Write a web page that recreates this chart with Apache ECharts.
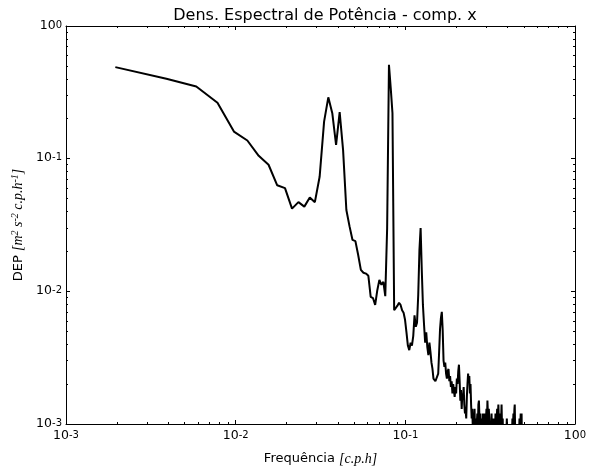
<!DOCTYPE html>
<html>
<head>
<meta charset="utf-8">
<script src="https://cdn.jsdelivr.net/npm/echarts@6/dist/echarts.min.js"></script>
<style>
html, body { margin: 0; padding: 0; background: #fff; }
#chart { width: 593px; height: 471px; }
</style>
</head>
<body>
<div id="chart"></div>
<script>
// Power spectral density of the x velocity component (hourly samples, 512-sample segments)
const SEGMENT_LENGTH = 512;
const SAMPLE_INTERVAL_H = 1;

const psdX = [
  0.49, 0.40, 0.35, 0.264, 0.160, 0.137, 0.105, 0.090, 0.063, 0.060,
  0.042, 0.047, 0.0435, 0.051, 0.047, 0.073, 0.190, 0.290, 0.220, 0.127,
  0.224, 0.116, 0.041, 0.031, 0.0244, 0.0239, 0.0188, 0.0145, 0.0138, 0.0136,
  0.0131, 0.0091, 0.0089, 0.0079, 0.0102, 0.0122, 0.0112, 0.0118, 0.0092, 0.030,
  0.51, 0.34, 0.22, 0.0072, 0.0070, 0.0078, 0.0082, 0.0079, 0.0072, 0.0069,
  0.0061, 0.0049, 0.0039, 0.0036, 0.0041, 0.0039, 0.0046, 0.0066, 0.0054, 0.0058,
  0.0094, 0.0205, 0.030, 0.0145, 0.0079, 0.0056, 0.0041, 0.0049, 0.0038, 0.0033,
  0.0041, 0.0035, 0.0029, 0.0026, 0.0022, 0.0022, 0.0021, 0.0021, 0.0021, 0.0024,
  0.0035, 0.0052, 0.0063, 0.0070, 0.0051, 0.0030, 0.0027, 0.0029, 0.0024, 0.0022,
  0.0025, 0.0026, 0.0021, 0.0023, 0.0019, 0.0021, 0.0017, 0.0020, 0.0018, 0.0016,
  0.0019, 0.0017, 0.0022, 0.0020, 0.0025, 0.0028, 0.0021, 0.0015, 0.0018, 0.0013,
  0.0017, 0.0016, 0.0019, 0.0014, 0.0012, 0.0013, 0.0011, 0.0016, 0.0020, 0.0024,
  0.0021, 0.0023, 0.0017, 0.0020, 0.0014, 0.0011, 0.0013, 0.0009, 0.0012, 0.0010,
  0.0013, 0.0008, 0.0011, 0.0007, 0.0010, 0.0012, 0.0009, 0.0014, 0.0015, 0.0011,
  0.0009, 0.0012, 0.0008, 0.0010, 0.0011, 0.0008, 0.0012, 0.0010, 0.0007, 0.0011,
  0.0012, 0.0009, 0.0011, 0.0013, 0.0010, 0.0015, 0.0012, 0.0009, 0.0013, 0.0011,
  0.0008, 0.0010, 0.0007, 0.0009, 0.0012, 0.0008, 0.0006, 0.0009, 0.0011, 0.0008,
  0.0010, 0.0007, 0.0009, 0.0012, 0.0010, 0.0008, 0.0011, 0.0013, 0.0010, 0.0012,
  0.0014, 0.0011, 0.0009, 0.0012, 0.0008, 0.0010, 0.0012, 0.0011, 0.0014, 0.0010,
  0.0008, 0.0011, 0.0007, 0.0009, 0.0006, 0.0008, 0.0010, 0.0007, 0.0009, 0.0008,
  0.0006, 0.0009, 0.0011, 0.0008, 0.0007, 0.0009, 0.0006, 0.0008, 0.0010, 0.0007,
  0.0005, 0.0008, 0.0009, 0.0006, 0.0008, 0.0010, 0.0007, 0.0009, 0.0011, 0.0008,
  0.0010, 0.0012, 0.0009, 0.0011, 0.0013, 0.0014, 0.0010, 0.0008, 0.0006, 0.0009,
  0.0007, 0.0005, 0.0008, 0.0006, 0.0009, 0.0007, 0.0010, 0.0008, 0.0006, 0.0009,
  0.0011, 0.0008, 0.0007, 0.0010, 0.0012, 0.0009, 0.0011, 0.0012, 0.0008, 0.0006,
  0.0008, 0.0007, 0.0009, 0.0008, 0.0009, 0.0008
];

// Frequency bins of the one-sided spectrum (c.p.h)
const frequencies = psdX.map((_, i) => (i + 1) / (SEGMENT_LENGTH * SAMPLE_INTERVAL_H));

const minorTicks = [
  0.002, 0.003, 0.004, 0.005, 0.006, 0.007, 0.008, 0.009,
  0.02, 0.03, 0.04, 0.05, 0.06, 0.07, 0.08, 0.09,
  0.2, 0.3, 0.4, 0.5, 0.6, 0.7, 0.8, 0.9
];

const titleText = 'Dens. Espectral de Potência - comp. x';

const SANS = 'DejaVu Sans';
const SERIF = 'Liberation Serif';

function powerLabel(v) {
  const e = Math.round(Math.log10(v));
  return '{b|10}{s|' + (e < 0 ? '-' : '') + Math.abs(e) + '}';
}

const powerRich = {
  b: { fontFamily: SANS, fontSize: 12.5, lineHeight: 12, color: '#000', verticalAlign: 'bottom', padding: [6, 0, 0, 0] },
  s: { fontFamily: SANS, fontSize: 10, lineHeight: 10, color: '#000', verticalAlign: 'top' }
};

const black = { color: '#000', width: 1 };

function majorAxis(position, showLabel, margin, extra) {
  return Object.assign({
    type: 'log', logBase: 10, min: 0.001, max: 1, position: position,
    axisLine: { show: true, onZero: false, lineStyle: black },
    axisTick: { show: true, inside: true, length: 4, lineStyle: black },
    axisLabel: showLabel
      ? { show: true, formatter: powerLabel, rich: powerRich, margin: margin }
      : { show: false },
    splitLine: { show: false },
    minorTick: { show: false }
  }, extra || {});
}

function minorAxis(position) {
  return {
    type: 'log', logBase: 10, min: 0.001, max: 1, position: position,
    axisLine: { show: false, onZero: false },
    axisTick: { show: true, inside: true, length: 2, lineStyle: black, customValues: minorTicks },
    axisLabel: { show: false },
    splitLine: { show: false }
  };
}

const chart = echarts.init(document.getElementById('chart'), null, { renderer: 'canvas' });

chart.setOption({
  animation: false,
  backgroundColor: '#fff',
  title: {
    text: titleText,
    left: 320,
    textAlign: 'center',
    top: 3,
    textStyle: { fontFamily: SANS, fontSize: 16, fontWeight: 'normal', color: '#000' }
  },
  grid: { left: 66, top: 26, right: 18, bottom: 47, containLabel: false, outerBoundsMode: 'none' },
  xAxis: [
    majorAxis('bottom', true, 6, {
      name: '{t|Frequência }{m|[c.p.h]}',
      nameLocation: 'middle',
      nameGap: 28,
      nameTextStyle: {
        rich: {
          t: { fontFamily: SANS, fontSize: 13, color: '#000' },
          m: { fontFamily: SERIF, fontStyle: 'italic', fontSize: 14, color: '#000' }
        }
      }
    }),
    minorAxis('bottom'),
    majorAxis('top', false, 0),
    minorAxis('top')
  ],
  yAxis: [
    majorAxis('left', true, 4, {
      name: '{t|DEP }{m|[m}{u|2}{m| s}{u|-2}{m| c.p.h}{u|-1}{m|]}',
      nameLocation: 'middle',
      nameRotate: 90,
      nameGap: 33,
      nameTextStyle: {
        rich: {
          t: { fontFamily: SANS, fontSize: 13, color: '#000', verticalAlign: 'bottom', lineHeight: 15, padding: [4, 0, 0, 0] },
          m: { fontFamily: SERIF, fontStyle: 'italic', fontSize: 14, color: '#000', verticalAlign: 'bottom', lineHeight: 15, padding: [4, 0, 0, 0] },
          u: { fontFamily: SERIF, fontStyle: 'italic', fontSize: 10, color: '#000', verticalAlign: 'top', lineHeight: 10 }
        }
      }
    }),
    minorAxis('left'),
    majorAxis('right', false, 0),
    minorAxis('right')
  ],
  series: [{
    type: 'line',
    xAxisIndex: 0,
    yAxisIndex: 0,
    data: frequencies.map((f, i) => [f, psdX[i]]),
    showSymbol: false,
    symbol: 'none',
    clip: true,
    lineStyle: { color: '#000', width: 2 }
  }]
});
</script>
</body>
</html>
